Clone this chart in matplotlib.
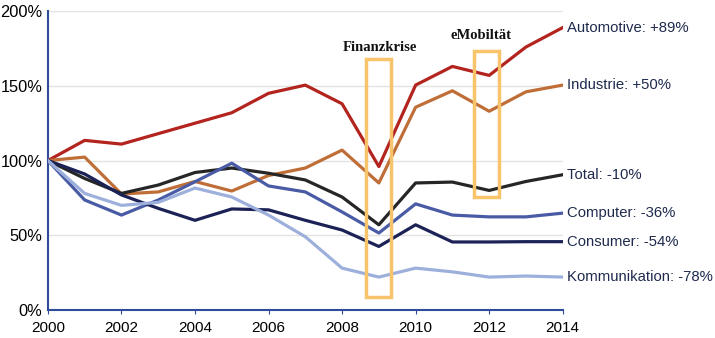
import numpy as np
import matplotlib.pyplot as plt

years = np.arange(2000, 2015)

automotive = [100, 113.5, 111, 118, 125, 132, 145, 150.5, 138, 96, 150.5, 163, 157, 176, 189]
industrie = [100, 102.3, 77.6, 79, 86, 79.6, 90, 95, 107, 85, 135.7, 146.7, 133, 146, 150.5]
total = [100, 88, 78, 83.6, 92, 95, 91.5, 87, 75.6, 57, 85, 85.6, 80, 86, 90.5]
computer = [100, 73.6, 63.5, 73.6, 85.8, 98.2, 83, 79, 65.6, 51.5, 71, 63.5, 62.3, 62.3, 64.8]
consumer = [100, 91, 77, 68, 60, 67.6, 67, 60, 53.5, 42.5, 57, 45.5, 45.5, 45.7, 45.7]
kommunikation = [100, 78, 70, 72, 81.6, 75.6, 63.5, 49, 28, 22, 28, 25.5, 22, 22.7, 22]

labels = ["Automotive: +89%", "Industrie: +50%", "Total: -10%",
          "Computer: -36%", "Consumer: -54%", "Kommunikation: -78%"]
colors = ["#B3241F", "#C06E38", "#262626", "#4A5BA6", "#1C2256", "#9DB0DC"]

# highlight boxes: (x0, x1, y0, y1) and caption
boxes = [(2008.65, 2009.33, 8.7, 168), (2011.58, 2012.26, 75.6, 173)]
captions = [("Finanzkrise", 2009.03, 176), ("eMobiltät", 2011.77, 184)]

fig = plt.figure(figsize=(7.15, 3.38), dpi=100)
ax = fig.add_axes([0.067, 0.083, 0.72, 0.884])

series = [automotive, industrie, total, computer, consumer, kommunikation]
for vals, lab, col in zip(series, labels, colors):
    ax.plot(years, vals, color=col, linewidth=2.3, zorder=3)
    ax.text(2014.12, vals[-1], lab, color="#1F2A4D", fontsize=10.7,
            family="Liberation Sans", va="center", ha="left", clip_on=False)

for x0, x1, y0, y1 in boxes:
    ax.add_patch(plt.Rectangle((x0, y0), x1 - x0, y1 - y0, fill=False,
                               edgecolor="#F7C46C", linewidth=2.5, zorder=4))
for txt, x, y in captions:
    ax.text(x, y, txt, ha="center", va="center", fontsize=10.5,
            family="Liberation Serif", weight="bold", color="#111111")

ax.set_xlim(2000, 2014)
ax.set_ylim(0, 200)
ax.set_xticks(range(2000, 2015, 2))
ax.set_yticks([0, 50, 100, 150, 200])
ax.set_yticklabels(["0%", "50%", "100%", "150%", "200%"])
ax.grid(axis="y", color="#E3E3E3", linewidth=1)
ax.set_axisbelow(True)
for s in ["top", "right"]:
    ax.spines[s].set_visible(False)
for s in ["left", "bottom"]:
    ax.spines[s].set_color("#2E4C9A")
    ax.spines[s].set_linewidth(1.5)
ax.tick_params(axis="y", length=0, labelsize=11.8, pad=4)
ax.tick_params(axis="x", length=3, color="#2E4C9A", labelsize=11, pad=5)
for t in ax.get_xticklabels() + ax.get_yticklabels():
    t.set_family("Liberation Sans")

plt.savefig("out.png", dpi=100)
